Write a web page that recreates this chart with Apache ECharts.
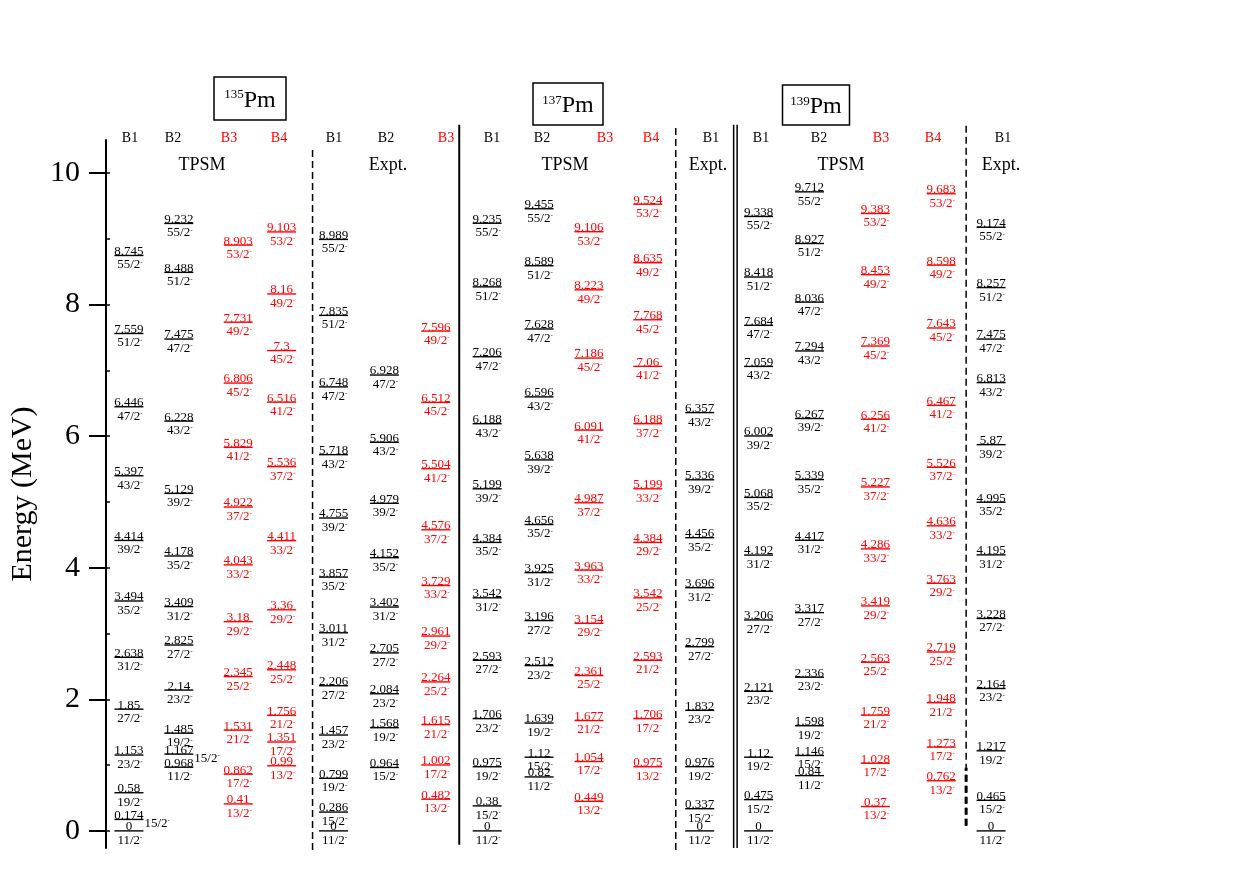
<!DOCTYPE html>
<html><head><meta charset="utf-8">
<script src="https://cdn.jsdelivr.net/npm/echarts@6/dist/echarts.min.js"></script>
<style>html,body{margin:0;padding:0;background:#fff}#c{width:1234px;height:872px}</style>
</head><body><div id="c"></div>
<script>
// ---------------- data (MeV, spins) ----------------
const yTicks = [0, 2, 4, 6, 8, 10];
const yTickLabels = ['0', '2', '4', '6', '8', '10'];
const yMinorTicks = [0, 1, 2, 3, 4, 5, 6, 7, 8, 9, 10];

// 135Pm TPSM
const pm135_T_B1_E = [0, 0.174, 0.58, 1.153, 1.85, 2.638, 3.494, 4.414, 5.397, 6.446, 7.559, 8.745];
const pm135_T_B1_J = ['11/2','15/2','19/2','23/2','27/2','31/2','35/2','39/2','43/2','47/2','51/2','55/2'];
const pm135_T_B2_E = [0.968, 1.167, 1.485, 2.14, 2.825, 3.409, 4.178, 5.129, 6.228, 7.475, 8.488, 9.232];
const pm135_T_B2_J = ['11/2','15/2','19/2','23/2','27/2','31/2','35/2','39/2','43/2','47/2','51/2','55/2'];
const pm135_T_B3_E = [0.41, 0.862, 1.531, 2.345, 3.18, 4.043, 4.922, 5.829, 6.806, 7.731, 8.903];
const pm135_T_B3_J = ['13/2','17/2','21/2','25/2','29/2','33/2','37/2','41/2','45/2','49/2','53/2'];
const pm135_T_B4_E = [0.99, 1.351, 1.756, 2.448, 3.36, 4.411, 5.536, 6.516, 7.3, 8.16, 9.103];
const pm135_T_B4_J = ['13/2','17/2','21/2','25/2','29/2','33/2','37/2','41/2','45/2','49/2','53/2'];
// 135Pm Expt
const pm135_X_B1_E = [0, 0.286, 0.799, 1.457, 2.206, 3.011, 3.857, 4.755, 5.718, 6.748, 7.835, 8.989];
const pm135_X_B1_J = ['11/2','15/2','19/2','23/2','27/2','31/2','35/2','39/2','43/2','47/2','51/2','55/2'];
const pm135_X_B2_E = [0.964, 1.568, 2.084, 2.705, 3.402, 4.152, 4.979, 5.906, 6.928];
const pm135_X_B2_J = ['15/2','19/2','23/2','27/2','31/2','35/2','39/2','43/2','47/2'];
const pm135_X_B3_E = [0.482, 1.002, 1.615, 2.264, 2.961, 3.729, 4.576, 5.504, 6.512, 7.596];
const pm135_X_B3_J = ['13/2','17/2','21/2','25/2','29/2','33/2','37/2','41/2','45/2','49/2'];
// 137Pm TPSM
const pm137_T_B1_E = [0, 0.38, 0.975, 1.706, 2.593, 3.542, 4.384, 5.199, 6.188, 7.206, 8.268, 9.235];
const pm137_T_B1_J = ['11/2','15/2','19/2','23/2','27/2','31/2','35/2','39/2','43/2','47/2','51/2','55/2'];
const pm137_T_B2_E = [0.82, 1.12, 1.639, 2.512, 3.196, 3.925, 4.656, 5.638, 6.596, 7.628, 8.589, 9.455];
const pm137_T_B2_J = ['11/2','15/2','19/2','23/2','27/2','31/2','35/2','39/2','43/2','47/2','51/2','55/2'];
const pm137_T_B3_E = [0.449, 1.054, 1.677, 2.361, 3.154, 3.963, 4.987, 6.091, 7.186, 8.223, 9.106];
const pm137_T_B3_J = ['13/2','17/2','21/2','25/2','29/2','33/2','37/2','41/2','45/2','49/2','53/2'];
const pm137_T_B4_E = [0.975, 1.706, 2.593, 3.542, 4.384, 5.199, 6.188, 7.06, 7.768, 8.635, 9.524];
const pm137_T_B4_J = ['13/2','17/2','21/2','25/2','29/2','33/2','37/2','41/2','45/2','49/2','53/2'];
// 137Pm Expt
const pm137_X_B1_E = [0, 0.337, 0.976, 1.832, 2.799, 3.696, 4.456, 5.336, 6.357];
const pm137_X_B1_J = ['11/2','15/2','19/2','23/2','27/2','31/2','35/2','39/2','43/2'];
// 139Pm TPSM
const pm139_T_B1_E = [0, 0.475, 1.12, 2.121, 3.206, 4.192, 5.068, 6.002, 7.059, 7.684, 8.418, 9.338];
const pm139_T_B1_J = ['11/2','15/2','19/2','23/2','27/2','31/2','35/2','39/2','43/2','47/2','51/2','55/2'];
const pm139_T_B2_E = [0.84, 1.146, 1.598, 2.336, 3.317, 4.417, 5.339, 6.267, 7.294, 8.036, 8.927, 9.712];
const pm139_T_B2_J = ['11/2','15/2','19/2','23/2','27/2','31/2','35/2','39/2','43/2','47/2','51/2','55/2'];
const pm139_T_B3_E = [0.37, 1.028, 1.759, 2.563, 3.419, 4.286, 5.227, 6.256, 7.369, 8.453, 9.383];
const pm139_T_B3_J = ['13/2','17/2','21/2','25/2','29/2','33/2','37/2','41/2','45/2','49/2','53/2'];
const pm139_T_B4_E = [0.762, 1.273, 1.948, 2.719, 3.763, 4.636, 5.526, 6.467, 7.643, 8.598, 9.683];
const pm139_T_B4_J = ['13/2','17/2','21/2','25/2','29/2','33/2','37/2','41/2','45/2','49/2','53/2'];
// 139Pm Expt
const pm139_X_B1_E = [0, 0.465, 1.217, 2.164, 3.228, 4.195, 4.995, 5.87, 6.813, 7.475, 8.257, 9.174];
const pm139_X_B1_J = ['11/2','15/2','19/2','23/2','27/2','31/2','35/2','39/2','43/2','47/2','51/2','55/2'];

// header texts
const nucleusMass = ['135', '137', '139'];
const nucleusSymbol = 'Pm';
const bandLabels = ['B1','B2','B3','B4','B1','B2','B3','B1','B2','B3','B4','B1','B1','B2','B3','B4','B1'];
const groupLabels = ['TPSM','Expt.','TPSM','Expt.','TPSM','Expt.'];
const yAxisTitle = 'Energy (MeV)';

// ---------------- layout / style ----------------
const F = 'Liberation Serif';
const BLACK = '#000000', RED = '#ff0000';
const columns = [
  {E: pm135_T_B1_E, J: pm135_T_B1_J, x: 127, c: BLACK, right: [1]},
  {E: pm135_T_B2_E, J: pm135_T_B2_J, x: 177, c: BLACK, right: [1]},
  {E: pm135_T_B3_E, J: pm135_T_B3_J, x: 236.5, c: RED},
  {E: pm135_T_B4_E, J: pm135_T_B4_J, x: 280, c: RED},
  {E: pm135_X_B1_E, J: pm135_X_B1_J, x: 332, c: BLACK},
  {E: pm135_X_B2_E, J: pm135_X_B2_J, x: 383, c: BLACK},
  {E: pm135_X_B3_E, J: pm135_X_B3_J, x: 434.5, c: RED},
  {E: pm137_T_B1_E, J: pm137_T_B1_J, x: 486, c: BLACK},
  {E: pm137_T_B2_E, J: pm137_T_B2_J, x: 538, c: BLACK},
  {E: pm137_T_B3_E, J: pm137_T_B3_J, x: 588, c: RED},
  {E: pm137_T_B4_E, J: pm137_T_B4_J, x: 647, c: RED},
  {E: pm137_X_B1_E, J: pm137_X_B1_J, x: 699, c: BLACK},
  {E: pm139_T_B1_E, J: pm139_T_B1_J, x: 758, c: BLACK},
  {E: pm139_T_B2_E, J: pm139_T_B2_J, x: 809, c: BLACK},
  {E: pm139_T_B3_E, J: pm139_T_B3_J, x: 875, c: RED},
  {E: pm139_T_B4_E, J: pm139_T_B4_J, x: 941, c: RED},
  {E: pm139_X_B1_E, J: pm139_X_B1_J, x: 991, c: BLACK}
];
const bandLabelX = [130,173,229,279,334,386,446,492,542,605,651,711,761,819,881,933,1003];
const groupLabelX = [202,388,565,708,841,1001];
const boxes = [
  {cx: 250, top: 77, w: 72, h: 43},
  {cx: 568, top: 83, w: 70, h: 42},
  {cx: 816, top: 85, w: 67, h: 40}
];
const separators = [
  {x: 311, y0: -0.29, y1: 10.38, dash: true, w: 1.5},
  {x: 458, y0: -0.21, y1: 10.73, dash: false, w: 2},
  {x: 675, y0: -0.29, y1: 10.73, dash: true, w: 1.5},
  {x: 733, y0: -0.26, y1: 10.73, dash: false, w: 1.5},
  {x: 736.5, y0: -0.26, y1: 10.73, dash: false, w: 1.5},
  {x: 966, y0: 0.08, y1: 10.76, dash: true, w: 1.5},
  {x: 966, y0: 0.08, y1: 0.96, dash: true, w: 3}
];

const series = columns.map(function (col) {
  return {
    type: 'custom',
    coordinateSystem: 'cartesian2d',
    clip: false,
    silent: true,
    data: col.E.map(function (e, i) { return [col.x, e, i]; }),
    renderItem: function (params, api) {
      const i = api.value(2);
      const p = api.coord([api.value(0), api.value(1)]);
      const hw = 14.5;
      const right = col.right && col.right.indexOf(i) >= 0;
      const spinText = '{a|' + col.J[i] + '}{m|-}';
      return {
        type: 'group',
        children: [
          {type: 'line', shape: {x1: p[0] - hw, y1: p[1], x2: p[0] + hw, y2: p[1]},
           style: {stroke: col.c, lineWidth: 1.4}},
          {type: 'text', style: {text: String(col.E[i]), x: p[0], y: p[1] + 2.5,
             align: 'center', verticalAlign: 'bottom', fontSize: 13, fontFamily: F, fill: col.c}},
          {type: 'text', style: {text: spinText,
             x: right ? p[0] + hw + 1 : p[0] + 1, y: right ? p[1] + 4 : p[1] + 3,
             align: right ? 'left' : 'center', verticalAlign: right ? 'middle' : 'top',
             rich: {a: {fontSize: 13, fontFamily: F, fill: col.c, color: col.c},
                    m: {fontSize: 7, fontFamily: F, fill: col.c, color: col.c, verticalAlign: 'top'}}}}
        ]
      };
    }
  };
});

series.push({
  type: 'custom',
  coordinateSystem: 'cartesian2d',
  clip: false,
  silent: true,
  data: separators.map(function (s, i) { return [s.x, s.y0, i]; }),
  renderItem: function (params, api) {
    const s = separators[api.value(2)];
    const a = api.coord([s.x, s.y0]);
    const b = api.coord([s.x, s.y1]);
    return {type: 'line', shape: {x1: a[0], y1: a[1], x2: b[0], y2: b[1]},
      style: {stroke: '#000', lineWidth: s.w, lineDash: s.dash ? [7, 4] : null}};
  }
});

const graphics = [];
boxes.forEach(function (b, i) {
  graphics.push({type: 'rect', shape: {x: b.cx - b.w / 2, y: b.top, width: b.w, height: b.h},
    style: {fill: 'none', stroke: '#000', lineWidth: 1.5}});
  graphics.push({type: 'text', x: b.cx, y: b.top + b.h / 2 + 2,
    style: {text: '{s|' + nucleusMass[i] + '}{p|' + nucleusSymbol + '}', align: 'center', verticalAlign: 'middle',
      rich: {s: {fontSize: 13, fontFamily: F, fill: '#000', verticalAlign: 'top'},
             p: {fontSize: 24, fontFamily: F, fill: '#000'}}}});
});
bandLabels.forEach(function (t, i) {
  graphics.push({type: 'text', x: bandLabelX[i], y: 138,
    style: {text: t, align: 'center', verticalAlign: 'middle', fontSize: 14, fontFamily: F,
      fill: (t === 'B3' || t === 'B4') ? RED : BLACK}});
});
groupLabels.forEach(function (t, i) {
  graphics.push({type: 'text', x: groupLabelX[i], y: 165,
    style: {text: t, align: 'center', verticalAlign: 'middle', fontSize: 18, fontFamily: F, fill: '#000'}});
});

const chart = echarts.init(document.getElementById('c'));
chart.setOption({
  backgroundColor: '#fff',
  animation: false,
  grid: {left: 104, right: 204, top: 140, bottom: 24, containLabel: false},
  xAxis: {type: 'value', min: 104, max: 1030, show: false},
  yAxis: [{
    type: 'value', min: -0.26, max: 10.5, position: 'left',
    name: yAxisTitle, nameLocation: 'middle', nameGap: 68,
    nameTextStyle: {fontSize: 30, fontFamily: F, color: '#000'},
    axisLine: {show: true, onZero: false, lineStyle: {color: '#000', width: 2}},
    axisTick: {show: true, inside: false, length: 17, customValues: yTicks, lineStyle: {color: '#000', width: 2}},
    axisLabel: {show: true, customValues: yTicks, margin: 26, fontSize: 30, fontFamily: F, color: '#000',
      formatter: function (v) { const k = yTicks.indexOf(v); return k >= 0 ? yTickLabels[k] : ''; }},
    splitLine: {show: false}
  }, {
    type: 'value', min: -0.26, max: 10.5, position: 'left',
    axisLine: {show: false},
    axisTick: {show: true, inside: true, length: 4, customValues: yMinorTicks, lineStyle: {color: '#000', width: 1.5}},
    axisLabel: {show: false},
    splitLine: {show: false}
  }],
  graphic: graphics,
  series: series
});
</script>
</body></html>
